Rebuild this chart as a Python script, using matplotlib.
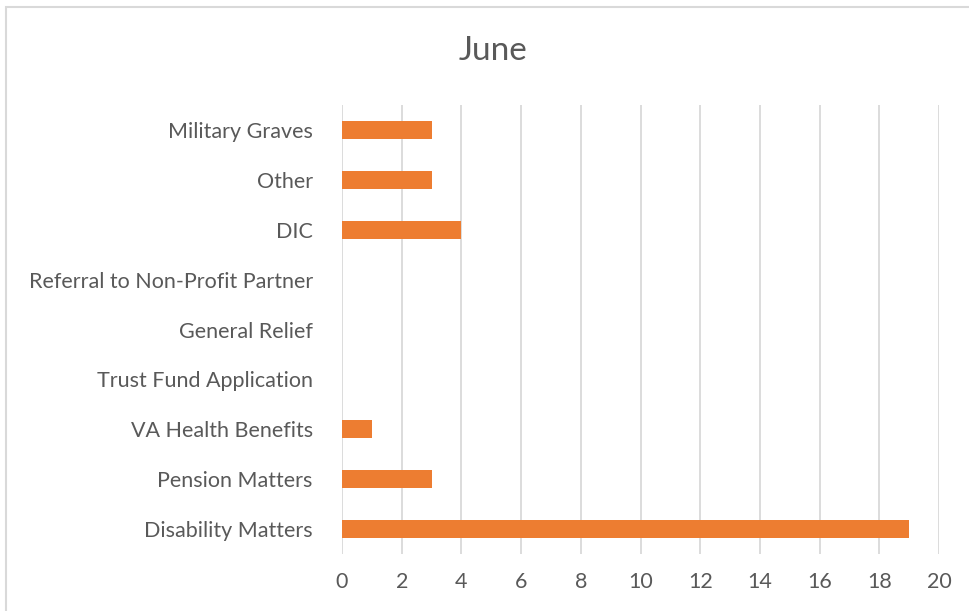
import matplotlib
matplotlib.use('Agg')
import matplotlib.pyplot as plt
from matplotlib.patches import Rectangle

# 数据
categories = ['Disability Matters', 'Pension Matters', 'VA Health Benefits',
              'Trust Fund Application', 'General Relief',
              'Referral to Non-Profit Partner', 'DIC', 'Other', 'Military Graves']
values = [19, 3, 1, 0, 0, 0, 4, 3, 3]
x_ticks = [0, 2, 4, 6, 8, 10, 12, 14, 16, 18, 20]

plt.rcParams['font.family'] = ['Lato', 'DejaVu Sans']

fig = plt.figure(figsize=(9.69, 6.11), dpi=100)
ax = fig.add_axes([342 / 969, 1 - 554 / 611, (939 - 342) / 969, (554 - 105) / 611])

ax.barh(range(len(categories)), values, height=0.36, color='#ED7D31', zorder=3)
ax.set_xlim(0, 20)
ax.set_ylim(-0.5, len(categories) - 0.5)
ax.set_xticks(x_ticks)
ax.set_yticks(range(len(categories)))
ax.set_yticklabels(categories)
ax.tick_params(axis='both', length=0, labelsize=15.5, colors='#595959')
ax.tick_params(axis='x', pad=13)
ax.tick_params(axis='y', pad=21)
ax.grid(axis='x', color='#D9D9D9', linewidth=1.3, zorder=0)
for s in ax.spines.values():
    s.set_visible(False)

fig.text(493 / 969, 1 - 51 / 611, 'June', ha='center', va='center',
         fontsize=24, color='#595959')

# 外框
fig.patches.append(Rectangle((5.5 / 969, -0.02), 1.05, 1 - 7 / 611 + 0.02,
                             transform=fig.transFigure, fill=False,
                             edgecolor='#D9D9D9', linewidth=1.5))

fig.savefig('out.png', dpi=100)
